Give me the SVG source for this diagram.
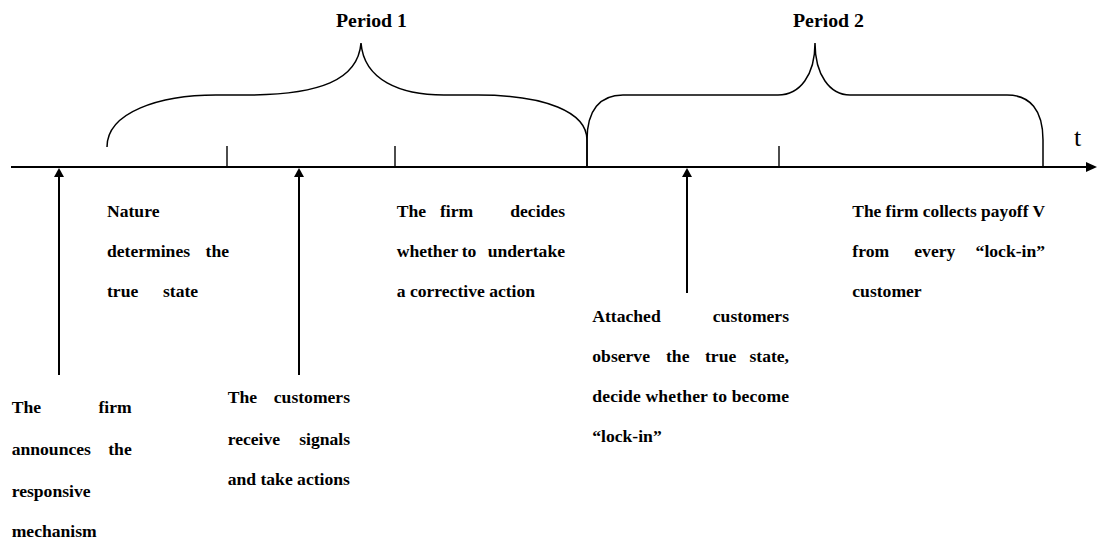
<svg xmlns="http://www.w3.org/2000/svg" width="1097" height="545" viewBox="0 0 1097 545">
<style>
.ax{stroke:#000;stroke-width:2;fill:none}
.tick{stroke:#000;stroke-width:1.4;fill:none}
.br{stroke:#000;stroke-width:1.5;fill:none}
.ah{fill:#000;stroke:none}
.lbl{font-family:"Liberation Serif","Times New Roman",serif;font-weight:bold;font-size:17.6px;fill:#000}
.per{font-family:"Liberation Serif","Times New Roman",serif;font-weight:bold;font-size:18px;fill:#000}
.t{font-family:"Liberation Serif","Times New Roman",serif;font-size:26px;fill:#000}
</style>
<rect width="1097" height="545" fill="#fff"/>
<g id="connectors">
  <line class="ax" x1="11" y1="167" x2="1088" y2="167"/>
  <polygon class="ah" points="1086,162 1097,167 1086,172"/>
  <line class="tick" x1="227" y1="146" x2="227" y2="167"/>
  <line class="tick" x1="395" y1="146" x2="395" y2="167"/>
  <line class="tick" x1="779" y1="146" x2="779" y2="167"/>
  <path class="br" d="M107,147 C107,112 160,95 216,95 L245,95 C320,95 358,80 361,43 C364,80 400,95 444,95 L478,95 C545,95 587,112 587,140 L587,167"/>
  <path class="br" d="M587,167 L587,140 C587,110 600,95 623,95 L778,95 C800,95 815,75 815,43 C815,75 830,95 850,95 L1007,95 C1030,95 1043,110 1043,140 L1043,167"/>
  <line class="ax" x1="59" y1="375" x2="59" y2="176"/>
  <polygon class="ah" points="54,177 59,168 64,177"/>
  <line class="ax" x1="299" y1="375" x2="299" y2="176"/>
  <polygon class="ah" points="294,177 299,168 304,177"/>
  <line class="ax" x1="687" y1="293" x2="687" y2="176"/>
  <polygon class="ah" points="682,177 687,168 692,177"/>
</g>
<g id="period1"><text class="per" x="336" y="27" textLength="71" lengthAdjust="spacingAndGlyphs">Period 1</text></g>
<g id="period2"><text class="per" x="793" y="27" textLength="71" lengthAdjust="spacingAndGlyphs">Period 2</text></g>
<g id="t-label"><text class="t" x="1074" y="146">t</text></g>
<g id="announce">
  <text class="lbl" x="11.7" y="413">The</text><text class="lbl" x="131.7" y="413" text-anchor="end">firm</text>
  <text class="lbl" x="11.7" y="455">announces</text><text class="lbl" x="131.7" y="455" text-anchor="end">the</text>
  <text class="lbl" x="11.7" y="496.7">responsive</text>
  <text class="lbl" x="11.7" y="536.7">mechanism</text>
</g>
<g id="nature">
  <text class="lbl" x="107" y="216.7">Nature</text>
  <text class="lbl" x="107" y="256.7">determines</text><text class="lbl" x="229" y="256.7" text-anchor="end">the</text>
  <text class="lbl" x="107" y="296.7">true</text><text class="lbl" x="163" y="296.7">state</text>
</g>
<g id="customers">
  <text class="lbl" x="227.7" y="403">The</text><text class="lbl" x="350" y="403" text-anchor="end">customers</text>
  <text class="lbl" x="227.7" y="445">receive</text><text class="lbl" x="350" y="445" text-anchor="end">signals</text>
  <text class="lbl" x="227.7" y="485">and take actions</text>
</g>
<g id="corrective">
  <text class="lbl" x="396.7" y="216.7">The</text><text class="lbl" x="440" y="216.7">firm</text><text class="lbl" x="565" y="216.7" text-anchor="end">decides</text>
  <text class="lbl" x="396.7" y="256.7">whether</text><text class="lbl" x="461.7" y="256.7">to</text><text class="lbl" x="565" y="256.7" text-anchor="end">undertake</text>
  <text class="lbl" x="396.7" y="296.7">a corrective action</text>
</g>
<g id="attached">
  <text class="lbl" x="592.3" y="321.7">Attached</text><text class="lbl" x="789" y="321.7" text-anchor="end">customers</text>
  <text class="lbl" x="592.3" y="361.7">observe</text><text class="lbl" x="666" y="361.7">the</text><text class="lbl" x="705" y="361.7">true</text><text class="lbl" x="789" y="361.7" text-anchor="end">state,</text>
  <text class="lbl" x="592.3" y="401.7" textLength="196.7" lengthAdjust="spacing">decide whether to become</text>
  <text class="lbl" x="592.3" y="441.7">“lock-in”</text>
</g>
<g id="payoff">
  <text class="lbl" x="852.3" y="216.7" textLength="192.7" lengthAdjust="spacingAndGlyphs">The firm collects payoff V</text>
  <text class="lbl" x="852.3" y="256.7">from</text><text class="lbl" x="914.3" y="256.7">every</text><text class="lbl" x="1045" y="256.7" text-anchor="end">“lock-in”</text>
  <text class="lbl" x="852.3" y="296.7">customer</text>
</g>
</svg>
